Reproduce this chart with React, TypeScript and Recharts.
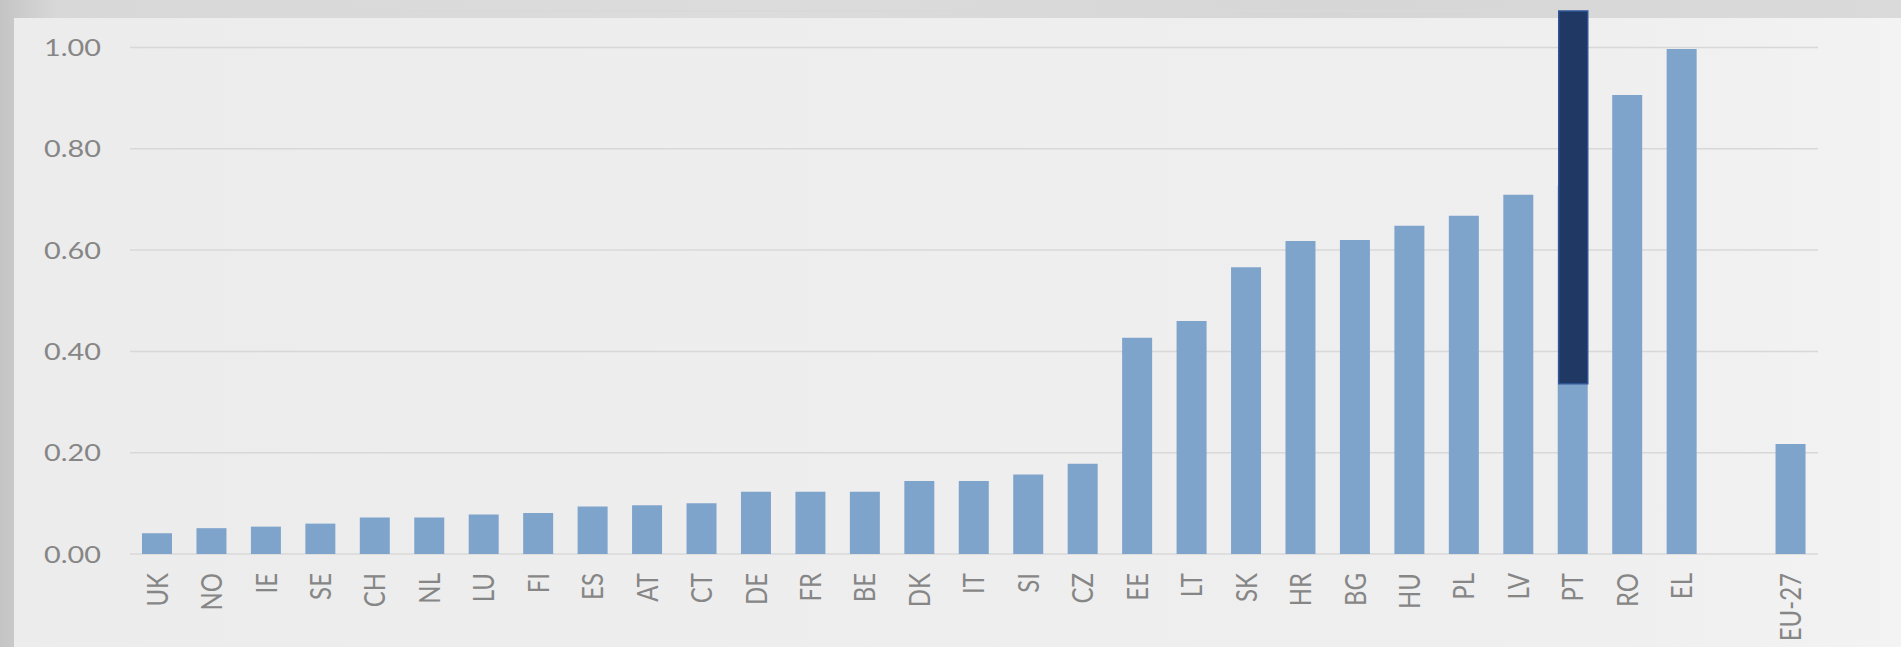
import React from "react";
import { BarChart, Bar, XAxis, YAxis, CartesianGrid } from "recharts";

const categories = [
  "UK", "NO", "IE", "SE", "CH", "NL", "LU", "FI", "ES", "AT", "CT", "DE", "FR", "BE", "DK",
  "IT", "SI", "CZ", "EE", "LT", "SK", "HR", "BG", "HU", "PL", "LV", "PT", "RO", "EL", "", "EU-27",
];

const values: (number | null)[] = [
  0.041, 0.051, 0.054, 0.06, 0.072, 0.072, 0.078, 0.081, 0.094, 0.096, 0.1, 0.123, 0.123, 0.123, 0.144,
  0.144, 0.157, 0.178, 0.427, 0.46, 0.566, 0.618, 0.62, 0.648, 0.668, 0.709, 0.727, 0.906, 0.997, null, 0.217,
];

// highlighted range drawn over PT
const highlightCategory = "PT";
const highlightRange: [number, number] = [0.336, 1.072];

const yTicks = [0, 0.2, 0.4, 0.6, 0.8, 1.0];
const yMax = 1.072;

const data = categories.map((c, i) => ({
  name: c,
  value: values[i],
  overlay: c === highlightCategory ? highlightRange : null,
}));

const FONT = "Lato, 'Open Sans', sans-serif";
const TEXT = "#868686";

const YTick = (props: any) => {
  const { x, y, payload } = props;
  return (
    <text
      transform={`translate(${x},${y}) scale(1.2,1)`}
      textAnchor="end"
      dy="0.36em"
      fontFamily={FONT}
      fontSize={24}
      fill={TEXT}
    >
      {Number(payload.value).toFixed(2)}
    </text>
  );
};

const XTick = (props: any) => {
  const { x, y, payload } = props;
  if (!payload.value) return null;
  return (
    <text
      transform={`translate(${x},${y}) scale(1.2,1) rotate(-90)`}
      textAnchor="end"
      dy="0.36em"
      fontFamily={FONT}
      fontSize={24}
      fill={TEXT}
    >
      {payload.value}
    </text>
  );
};

export default function App() {
  return (
    <div
      style={{
        position: "absolute",
        left: 0,
        top: 0,
        width: 1901,
        height: 647,
        overflow: "hidden",
        background: "linear-gradient(90deg, #c4c4c4 0%, #d8d8d8 3%, #dcdcdc 40%, #d6d6d6 70%, #dadada 100%)",
      }}
    >
      <div
        style={{
          position: "absolute",
          left: 14,
          top: 18,
          right: 0,
          bottom: 0,
          background: "linear-gradient(90deg, #ececec 0%, #eeeeee 50%, #efefef 85%, #f3f3f3 100%)",
        }}
      />
      <div style={{ position: "absolute", left: 0, top: 0 }}>
        <BarChart
          width={1901}
          height={647}
          data={data}
          margin={{ top: 11, right: 83, bottom: 0, left: 0 }}
        >
          <CartesianGrid vertical={false} stroke="#d8d8d8" strokeWidth={1.5} />
          <XAxis
            xAxisId="main"
            dataKey="name"
            type="category"
            interval={0}
            axisLine={false}
            tickLine={false}
            tickMargin={13}
            height={93}
            tick={<XTick />}
          />
          <XAxis xAxisId="over" dataKey="name" type="category" hide />
          <YAxis
            domain={[0, yMax]}
            ticks={yTicks}
            width={130}
            axisLine={false}
            tickLine={false}
            tickMargin={23}
            tick={<YTick />}
          />
          <Bar xAxisId="main" dataKey="value" fill="#7fa4cc" barSize={30} isAnimationActive={false} />
          <Bar
            xAxisId="over"
            dataKey="overlay"
            fill="#1f3864"
            stroke="#2f5597"
            strokeWidth={1.5}
            barSize={29}
            isAnimationActive={false}
          />
        </BarChart>
      </div>
    </div>
  );
}
